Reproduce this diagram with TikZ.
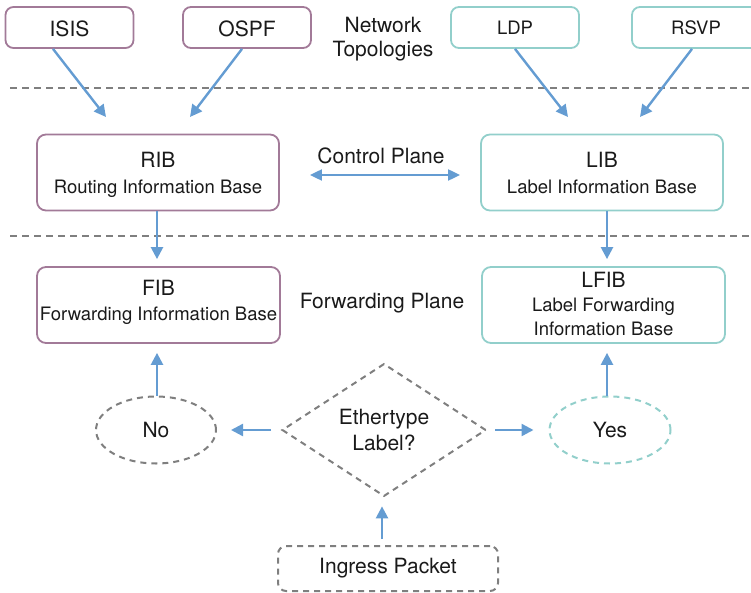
\documentclass[tikz,border=0pt]{standalone}
\usepackage{fontspec}
\setmainfont{TeX Gyre Heros}
\usetikzlibrary{arrows.meta,shapes.geometric,calc}

\definecolor{ribline}{HTML}{A27A98}
\definecolor{libline}{HTML}{92CFCB}
\definecolor{flow}{HTML}{649CD2}
\definecolor{dashgray}{HTML}{7F7F7F}
\definecolor{ink}{HTML}{1A1A1A}

\newcommand\lgtxt{\fontsize{21}{26}\selectfont}
\newcommand\smtxt{\fontsize{18.5}{24}\selectfont}

\tikzset{
  txt/.style={text=ink, align=center, inner sep=0pt},
  proto/.style={txt, draw, line width=1.8pt, rounded corners=8pt,
    minimum width=128pt, minimum height=41pt},
  infobox/.style={txt, draw, line width=1.8pt, rounded corners=9pt,
    minimum width=242pt, minimum height=76pt},
  decision/.style={txt, draw=dashgray, line width=2pt, dash pattern=on 6pt off 5pt},
  flowarrow/.style={draw=flow, line width=2.4pt, -{Triangle[length=12pt,width=12pt]}},
  separator/.style={draw=dashgray, line width=2.2pt, dash pattern=on 7pt off 5pt},
}

\begin{document}
\begin{tikzpicture}[x=1pt,y=-1pt]
\useasboundingbox (0,0) rectangle (751,593);
\clip (0,0) rectangle (751,593);

% plane separators
\draw[separator] (10,88) -- (751,88);
\draw[separator] (10,236) -- (751,236);

% routing protocols and label protocols
\node[proto, draw=ribline, font=\lgtxt, text height=18.5pt] (isis) at (69.5,27.5) {ISIS};
\node[proto, draw=ribline, font=\lgtxt, text height=18.5pt] (ospf) at (247,27.5) {OSPF};
\node[txt, font=\fontsize{21}{24}\selectfont] (topo) at (383,39.5) {Network\\Topologies};
\node[proto, draw=libline, font=\smtxt] (ldp) at (515,27.5) {LDP};
\node[proto, draw=libline, font=\smtxt] (rsvp) at (696,27.5) {RSVP};

% control plane
\node[infobox, draw=ribline, font=\lgtxt, text depth=0pt] (rib) at (158,172.5)
  {RIB\\\smtxt Routing Information Base};
\node[infobox, draw=libline, font=\lgtxt, text depth=0pt] (lib) at (602,172.5)
  {LIB\\\smtxt Label Information Base};
\node[txt, font=\lgtxt] (ctrl) at (381,155.5) {Control Plane};

% forwarding plane
\node[infobox, draw=ribline, minimum width=243pt, font=\fontsize{21}{25}\selectfont,
  text depth=10pt] (fib) at (158.5,305)
  {FIB\\\smtxt Forwarding Information Base};
\node[infobox, draw=libline, minimum width=243pt, font=\fontsize{21}{24}\selectfont,
  text depth=3pt] (lfib) at (603.5,305)
  {LFIB\\\smtxt Label Forwarding\\\smtxt Information Base};
\node[txt, font=\lgtxt] (fwd) at (382,303.5) {Forwarding Plane};

% packet decision
\node[decision, shape=diamond, minimum width=204pt, minimum height=124pt,
  font=\lgtxt, text depth=1pt] (dia) at (384,430) {Ethertype\\Label?};
\node[decision, shape=ellipse, minimum width=120pt, minimum height=67pt,
  font=\lgtxt] (no) at (156,430) {No};
\node[decision, draw=libline, shape=ellipse, minimum width=121pt, minimum height=67pt,
  font=\lgtxt] (yes) at (610,430) {Yes};
\node[decision, rounded corners=8pt, minimum width=220pt, minimum height=45pt,
  font=\lgtxt] (ing) at (388,568.5) {Ingress Packet};

% free ends of the protocol arrows
\coordinate (isisend) at (106,117);
\coordinate (ospfend) at (190,117);
\coordinate (ldpend) at (568,117);
\coordinate (rsvpend) at (640,117);

\draw[flowarrow] ($(isis.south)+(-16.5,0)$) -- (isisend);
\draw[flowarrow] ($(ospf.south)+(-5,0)$) -- (ospfend);
\draw[flowarrow] (ldp.south) -- (ldpend);
\draw[flowarrow] ($(rsvp.south)+(-4,0)$) -- (rsvpend);

\draw[flowarrow, line width=2pt,
  {Triangle[length=12pt,width=11pt]}-{Triangle[length=12pt,width=11pt]}]
  ($(rib.east)+(30,2.5)$) -- ($(lib.west)+(-20,2.5)$);

\draw[flowarrow, shorten >=7pt] ([xshift=-1pt]rib.south) -- ([xshift=-1.5pt]fib.north);
\draw[flowarrow, shorten >=7pt] ([xshift=5pt]lib.south) -- ([xshift=3.5pt]lfib.north);

\draw[flowarrow, shorten >=9pt] ([xshift=1pt]no.north) -- ([xshift=1pt]no.north |- fib.south);
\draw[flowarrow, shorten >=9pt] ([xshift=-3pt]yes.north) -- ([xshift=-3pt]yes.north |- lfib.south);

\draw[flowarrow, shorten <=10pt, shorten >=14pt] (dia.west) -- (no.east);
\draw[flowarrow, shorten <=8pt, shorten >=15pt] (dia.east) -- (yes.west);
\draw[flowarrow, shorten <=6pt, shorten >=9pt] ([xshift=-2pt]dia.south |- ing.north) -- ([xshift=-2pt]dia.south);
\end{tikzpicture}
\end{document}
